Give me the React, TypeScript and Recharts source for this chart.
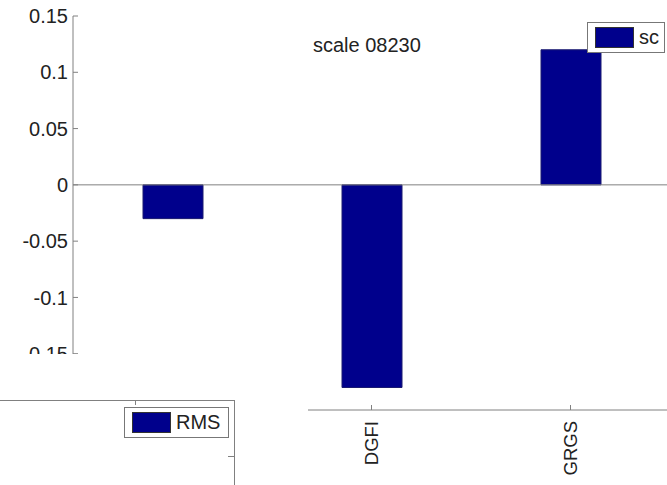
import React from 'react';
import { BarChart, Bar, XAxis, YAxis, ReferenceLine, Legend } from 'recharts';

const categories = ['RMS', 'DGFI', 'GRGS'];
const scValues = [-0.03, -0.18, 0.12];
const yTicks = [-0.2, -0.15, -0.1, -0.05, 0, 0.05, 0.1, 0.15];
const titleText = 'scale 08230';

// lower-left panel: only the corner of its box and its legend are visible
const rmsCategories = ['a', 'b', 'c'];
const rmsValues: (number | null)[] = [null, null, null];

const mainData = categories.map((c, i) => ({ name: c, sc: scValues[i] }));
const rmsData = rmsCategories.map((c, i) => ({ name: c, rms: rmsValues[i] }));

const AXIS = '#808080';
const NAVY = '#00008c';
const FONT = '"Liberation Sans", Arial, sans-serif';

const RotatedTick = (props: any) => {
  const { x, y, payload } = props;
  return (
    <g transform={`translate(${x},${y})`}>
      <text transform="rotate(-90)" textAnchor="end" dy="0.36em" fontSize={18.5} fill="#222" fontFamily={FONT}>
        {payload.value}
      </text>
    </g>
  );
};

const MatlabLegend = (props: any) => {
  const { payload, boxWidth } = props;
  return (
    <div
      style={{
        width: boxWidth,
        height: 31,
        boxSizing: 'border-box',
        border: '1px solid #777',
        background: '#fff',
        display: 'flex',
        alignItems: 'center',
        paddingLeft: 7,
        fontFamily: FONT,
        fontSize: 20,
        color: '#222',
      }}
    >
      {(payload || []).map((p: any) => (
        <React.Fragment key={p.value}>
          <span
            style={{
              display: 'inline-block',
              width: 39,
              height: 21,
              boxSizing: 'border-box',
              background: NAVY,
              border: '1px solid #333',
              marginRight: 5,
            }}
          />
          <span>{p.value}</span>
        </React.Fragment>
      ))}
    </div>
  );
};

export default function App() {
  return (
    <div style={{ position: 'absolute', left: 0, top: 0, width: 667, height: 485, overflow: 'hidden', background: '#fff' }}>
      <BarChart width={680} height={485} data={mainData} margin={{ top: 16, right: 10, bottom: 0, left: 0 }}>
        <XAxis
          dataKey="name"
          height={75}
          stroke={AXIS}
          tickSize={-5}
          tickMargin={16}
          tick={<RotatedTick />}
          interval={0}
        />
        <XAxis xAxisId="top" dataKey="name" orientation="top" height={0} stroke={AXIS} tickSize={-5} tick={false} />
        <YAxis
          width={73}
          domain={[-0.2, 0.15]}
          ticks={yTicks}
          interval={0}
          stroke={AXIS}
          tickSize={-5}
          tickMargin={10}
          tick={{ fill: '#222', fontSize: 20, fontFamily: FONT }}
          allowDataOverflow
        />
        <YAxis
          yAxisId="right"
          orientation="right"
          width={0}
          domain={[-0.2, 0.15]}
          ticks={yTicks}
          interval={0}
          stroke={AXIS}
          tickSize={-7}
          tick={false}
        />
        <ReferenceLine y={0} stroke={AXIS} />
        <Bar dataKey="sc" name="sc" fill={NAVY} stroke="#1a1a70" barSize={60} isAnimationActive={false} />
        <Legend
          layout="horizontal"
          verticalAlign="middle"
          align="center"
          content={<MatlabLegend boxWidth={78} />}
          wrapperStyle={{ left: 587, top: 22, width: 78, height: 31 }}
        />
      </BarChart>

      <div
        style={{
          position: 'absolute',
          left: 313,
          top: 33,
          fontFamily: FONT,
          fontSize: 20,
          color: '#222',
          lineHeight: '24px',
          whiteSpace: 'nowrap',
        }}
      >
        {titleText}
      </div>

      {/* the second figure pasted over the lower left */}
      <div style={{ position: 'absolute', left: 0, top: 354, width: 308, height: 131, background: '#fff' }} />
      <div
        style={{
          position: 'absolute',
          left: -1,
          top: 400,
          width: 236,
          height: 100,
          boxSizing: 'border-box',
          borderTop: `1px solid ${AXIS}`,
          borderRight: `1px solid ${AXIS}`,
        }}
      />
      <div style={{ position: 'absolute', left: 135, top: 400, width: 1, height: 5, background: AXIS }} />
      <div style={{ position: 'absolute', left: 228, top: 456, width: 7, height: 1, background: AXIS }} />

      <div style={{ position: 'absolute', left: 0, top: 396 }}>
        <BarChart width={239} height={89} data={rmsData} margin={{ top: 4, right: 4, bottom: 0, left: 0 }}>
          <Bar dataKey="rms" name="RMS" fill={NAVY} barSize={60} isAnimationActive={false} />
          <Legend
            layout="horizontal"
            verticalAlign="middle"
            align="center"
            content={<MatlabLegend boxWidth={105} />}
            wrapperStyle={{ left: 124, top: 11, width: 105, height: 31 }}
          />
        </BarChart>
      </div>
    </div>
  );
}
